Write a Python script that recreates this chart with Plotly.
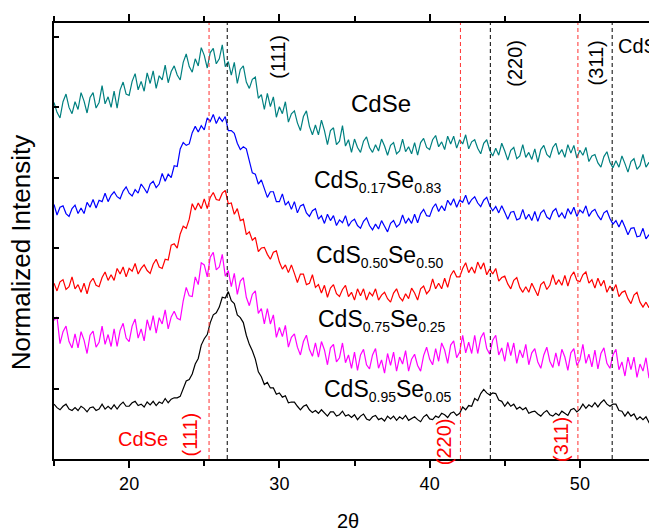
import plotly.graph_objects as go

# 2-theta grid (degrees), 0.2 deg step
two_theta = [round(15 + 0.2 * i, 1) for i in range(201)]

cdse = [
5.07,4.93,4.85,5.08,5.19,5.00,4.91,5.08,4.97,5.21,
5.09,4.92,5.14,5.21,4.99,5.07,5.31,5.05,5.15,5.00,
5.23,4.99,5.25,5.36,5.19,5.17,5.37,5.48,5.25,5.37,
5.23,5.49,5.34,5.52,5.27,5.45,5.39,5.60,5.35,5.51,
5.59,5.46,5.39,5.64,5.76,5.58,5.50,5.69,5.59,5.85,
5.74,5.56,5.78,5.84,5.62,5.69,5.89,5.58,5.65,5.46,
5.64,5.34,5.54,5.59,5.36,5.27,5.40,5.43,5.13,5.18,
4.97,5.20,5.01,5.15,4.86,5.01,4.91,5.08,4.79,4.91,
4.95,4.78,4.67,4.87,4.95,4.73,4.61,4.75,4.61,4.82,
4.67,4.47,4.67,4.71,4.47,4.52,4.74,4.45,4.54,4.36,
4.55,4.43,4.36,4.52,4.58,4.43,4.36,4.47,4.38,4.55,
4.45,4.32,4.46,4.50,4.34,4.38,4.55,4.37,4.44,4.34,
4.50,4.32,4.50,4.56,4.43,4.40,4.54,4.60,4.44,4.51,
4.40,4.59,4.48,4.59,4.42,4.54,4.48,4.61,4.41,4.51,
4.54,4.42,4.34,4.49,4.54,4.39,4.31,4.42,4.32,4.49,
4.38,4.25,4.39,4.43,4.27,4.31,4.47,4.29,4.36,4.26,
4.41,4.22,4.40,4.46,4.33,4.29,4.43,4.49,4.33,4.40,
4.29,4.47,4.35,4.46,4.28,4.39,4.32,4.43,4.23,4.31,
4.33,4.21,4.15,4.30,4.37,4.22,4.14,4.24,4.15,4.31,
4.20,4.08,4.23,4.27,4.12,4.17,4.33,4.15,4.22,4.12,
4.27]

cds017 = [
3.62,3.47,3.58,3.60,3.49,3.45,3.56,3.61,3.49,3.57,
3.49,3.65,3.58,3.69,3.57,3.68,3.66,3.78,3.66,3.75,
3.80,3.73,3.70,3.81,3.87,3.78,3.74,3.83,3.78,3.91,
3.85,3.78,3.91,3.95,3.86,3.91,4.06,3.95,4.05,4.00,
4.17,4.16,4.41,4.50,4.46,4.48,4.64,4.73,4.65,4.74,
4.68,4.85,4.80,4.90,4.77,4.86,4.80,4.87,4.67,4.67,
4.63,4.49,4.40,4.44,4.41,4.22,4.07,4.05,3.91,3.97,
3.85,3.72,3.80,3.80,3.66,3.66,3.77,3.61,3.66,3.55,
3.66,3.50,3.60,3.62,3.50,3.45,3.53,3.56,3.41,3.46,
3.35,3.48,3.39,3.46,3.32,3.40,3.36,3.46,3.31,3.38,
3.41,3.32,3.28,3.38,3.43,3.32,3.26,3.34,3.27,3.39,
3.31,3.23,3.35,3.39,3.30,3.34,3.47,3.35,3.42,3.35,
3.48,3.36,3.49,3.55,3.46,3.45,3.57,3.63,3.52,3.60,
3.53,3.68,3.61,3.70,3.58,3.68,3.65,3.75,3.62,3.69,
3.73,3.64,3.59,3.68,3.72,3.60,3.53,3.59,3.50,3.60,
3.51,3.41,3.51,3.52,3.40,3.42,3.55,3.41,3.48,3.39,
3.52,3.38,3.50,3.54,3.44,3.41,3.52,3.56,3.44,3.50,
3.42,3.56,3.48,3.58,3.45,3.54,3.50,3.60,3.45,3.52,
3.55,3.46,3.40,3.50,3.53,3.42,3.34,3.39,3.30,3.40,
3.30,3.19,3.28,3.29,3.16,3.17,3.28,3.13,3.19,3.09,
3.20]

cds050 = [
2.50,2.39,2.52,2.55,2.41,2.45,2.59,2.42,2.48,2.37,
2.50,2.35,2.51,2.57,2.47,2.45,2.58,2.66,2.54,2.62,
2.54,2.71,2.63,2.73,2.59,2.71,2.67,2.78,2.63,2.71,
2.76,2.68,2.64,2.77,2.84,2.73,2.71,2.84,2.83,3.04,
3.06,3.00,3.20,3.31,3.28,3.41,3.63,3.54,3.64,3.56,
3.70,3.56,3.72,3.79,3.69,3.68,3.78,3.82,3.63,3.64,
3.48,3.56,3.39,3.41,3.19,3.23,3.11,3.15,2.95,3.00,
3.01,2.91,2.84,2.94,2.96,2.80,2.70,2.76,2.65,2.76,
2.64,2.51,2.63,2.63,2.48,2.50,2.62,2.44,2.48,2.36,
2.47,2.30,2.43,2.48,2.35,2.31,2.41,2.47,2.31,2.37,
2.26,2.42,2.32,2.42,2.26,2.37,2.32,2.42,2.26,2.33,
2.37,2.28,2.23,2.36,2.42,2.30,2.25,2.35,2.28,2.43,
2.36,2.26,2.42,2.46,2.35,2.40,2.56,2.42,2.50,2.42,
2.57,2.44,2.61,2.68,2.59,2.59,2.71,2.79,2.65,2.73,
2.64,2.80,2.70,2.79,2.62,2.70,2.63,2.71,2.53,2.58,
2.60,2.49,2.42,2.54,2.58,2.44,2.37,2.45,2.37,2.50,
2.41,2.32,2.48,2.52,2.41,2.47,2.62,2.48,2.55,2.47,
2.61,2.46,2.60,2.66,2.54,2.52,2.62,2.66,2.50,2.55,
2.43,2.57,2.46,2.54,2.37,2.46,2.39,2.48,2.31,2.37,
2.39,2.28,2.21,2.33,2.37,2.23,2.16,2.23,2.15,2.27,
2.18]

cds075 = [
1.97,2.02,1.64,1.81,1.89,1.67,1.58,1.78,1.58,1.81,
1.69,1.50,1.76,1.82,1.59,1.66,1.89,1.63,1.77,1.60,
1.85,1.60,1.83,1.93,1.72,1.67,1.89,1.99,1.72,1.85,
1.68,1.98,1.83,2.04,1.79,2.01,1.92,2.12,1.85,2.02,
2.10,2.00,1.98,2.25,2.44,2.32,2.31,2.59,2.48,2.79,
2.76,2.59,2.87,2.94,2.69,2.73,2.91,2.60,2.68,2.45,
2.64,2.34,2.53,2.58,2.30,2.18,2.34,2.39,2.07,2.14,
1.92,2.14,1.92,2.05,1.73,1.87,1.74,1.90,1.59,1.73,
1.78,1.59,1.48,1.67,1.76,1.56,1.46,1.65,1.45,1.67,
1.55,1.34,1.58,1.63,1.38,1.44,1.65,1.37,1.48,1.29,
1.52,1.26,1.48,1.56,1.34,1.28,1.48,1.57,1.29,1.41,
1.22,1.50,1.33,1.52,1.25,1.45,1.35,1.54,1.25,1.42,
1.49,1.33,1.25,1.47,1.59,1.42,1.34,1.57,1.39,1.65,
1.55,1.36,1.62,1.68,1.44,1.52,1.76,1.51,1.66,1.50,
1.76,1.50,1.72,1.80,1.57,1.49,1.69,1.76,1.48,1.58,
1.39,1.66,1.47,1.65,1.36,1.55,1.44,1.63,1.34,1.51,
1.57,1.38,1.29,1.48,1.59,1.39,1.30,1.51,1.32,1.56,
1.45,1.26,1.51,1.57,1.33,1.41,1.63,1.36,1.49,1.31,
1.55,1.28,1.50,1.58,1.36,1.29,1.48,1.56,1.27,1.38,
1.18,1.45,1.27,1.45,1.16,1.35,1.25,1.44,1.15,1.32,
1.30]

cds095 = [
0.78,0.73,0.70,0.75,0.78,0.71,0.69,0.73,0.69,0.75,
0.72,0.67,0.73,0.74,0.69,0.71,0.78,0.71,0.75,0.71,
0.77,0.71,0.77,0.81,0.75,0.75,0.80,0.82,0.76,0.78,
0.74,0.81,0.77,0.82,0.76,0.81,0.79,0.86,0.80,0.85,
0.87,0.87,0.89,1.01,1.11,1.13,1.21,1.35,1.43,1.62,
1.71,1.77,1.94,2.05,2.08,2.16,2.30,2.29,2.38,2.25,
2.21,2.05,2.01,1.94,1.76,1.63,1.54,1.42,1.24,1.17,
1.06,1.09,1.01,1.01,0.92,0.94,0.88,0.90,0.80,0.81,
0.81,0.75,0.70,0.75,0.77,0.70,0.66,0.69,0.65,0.70,
0.66,0.61,0.67,0.67,0.61,0.63,0.68,0.61,0.63,0.59,
0.63,0.56,0.61,0.64,0.57,0.55,0.60,0.62,0.56,0.58,
0.54,0.61,0.57,0.61,0.55,0.60,0.57,0.62,0.55,0.58,
0.60,0.56,0.53,0.60,0.63,0.57,0.56,0.61,0.59,0.65,
0.63,0.59,0.65,0.67,0.62,0.65,0.74,0.70,0.76,0.75,
0.86,0.83,0.93,0.99,0.94,0.91,0.94,0.93,0.84,0.82,
0.75,0.81,0.75,0.78,0.71,0.74,0.70,0.73,0.65,0.67,
0.68,0.64,0.61,0.66,0.69,0.63,0.61,0.65,0.62,0.68,
0.65,0.62,0.70,0.72,0.67,0.71,0.78,0.72,0.77,0.74,
0.80,0.74,0.80,0.84,0.78,0.75,0.78,0.78,0.69,0.68,
0.61,0.67,0.61,0.64,0.56,0.60,0.56,0.60,0.52,0.56,
0.57]

series_names = ["CdSe", "CdS0.17Se0.83", "CdS0.50Se0.50", "CdS0.75Se0.25", "CdS0.95Se0.05"]
series_values = [cdse, cds017, cds050, cds075, cds095]
series_colors = ["#008080", "#0000ff", "#ff0000", "#ff00ff", "#000000"]

# reference peak positions (2theta)
cdse_peaks = [25.32, 42.05, 49.87]
cds_peaks = [26.53, 44.04, 52.15]

FONT = "Liberation Sans, Arial, sans-serif"

fig = go.Figure()
for name, vals, col in zip(series_names, series_values, series_colors):
    fig.add_trace(go.Scatter(x=two_theta, y=vals, mode="lines", name=name,
                             line=dict(color=col, width=1.2)))

for p in cdse_peaks:
    fig.add_shape(type="line", xref="x", yref="paper", x0=p, x1=p, y0=0, y1=1,
                  line=dict(color="#ff3030", width=1, dash="4px,3px"), layer="above")
for p in cds_peaks:
    fig.add_shape(type="line", xref="x", yref="paper", x0=p, x1=p, y0=0, y1=1,
                  line=dict(color="#000000", width=1, dash="4px,3px"), layer="above")

def sub(s):
    return "<sub><span style='font-size:14px'>" + s + "</span></sub>"

labels = [
    ("CdSe", 36.79, 5.06, "center", 24),
    ("CdS" + sub("0.17") + "Se" + sub("0.83"), 32.17, 3.95, "left", 23),
    ("CdS" + sub("0.50") + "Se" + sub("0.50"), 32.30, 2.88, "left", 23),
    ("CdS" + sub("0.75") + "Se" + sub("0.25"), 32.43, 1.97, "left", 23),
    ("CdS" + sub("0.95") + "Se" + sub("0.05"), 32.83, 0.97, "left", 23),
]
for txt, x, y, xa, fs in labels:
    fig.add_annotation(x=x, y=y, xref="x", yref="y", text=txt, showarrow=False,
                       xanchor=xa, yanchor="middle", font=dict(family=FONT, size=fs, color="black"))

# plane labels
black_planes = [("(111)", 29.91, 5.72), ("(220)", 45.66, 5.63), ("(311)", 51.10, 5.63)]
for txt, x, y in black_planes:
    fig.add_annotation(x=x, y=y, xref="x", yref="y", text=txt, showarrow=False, textangle=-90,
                       xanchor="center", yanchor="middle", font=dict(family=FONT, size=20, color="black"))
fig.add_annotation(x=52.38, y=5.88, xref="x", yref="y", text="CdS", showarrow=False,
                   xanchor="left", yanchor="middle", font=dict(family=FONT, size=20, color="black"))

red_planes = [("(111)", 24.06, 0.35), ("(220)", 41.01, 0.25), ("(311)", 48.79, 0.28)]
for txt, x, y in red_planes:
    fig.add_annotation(x=x, y=y, xref="x", yref="y", text=txt, showarrow=False, textangle=-90,
                       xanchor="center", yanchor="middle", font=dict(family=FONT, size=20, color="red"))
fig.add_annotation(x=20.93, y=0.28, xref="x", yref="y", text="CdSe", showarrow=False,
                   xanchor="center", yanchor="middle", font=dict(family=FONT, size=20, color="red"))

# axis titles
fig.add_annotation(x=-0.0549, y=0.474, xref="paper", yref="paper", text="Normalized Intensity",
                   showarrow=False, textangle=-90, xanchor="center", yanchor="middle",
                   font=dict(family=FONT, size=26, color="black"))
fig.add_annotation(x=0.489, y=-0.1416, xref="paper", yref="paper", text="2θ",
                   showarrow=False, xanchor="center", yanchor="middle",
                   font=dict(family=FONT, size=20, color="black"))

fig.update_layout(
    width=657, height=530,
    margin=dict(l=46, r=10, t=6, b=79),
    paper_bgcolor="white", plot_bgcolor="white",
    showlegend=False,
    font=dict(family=FONT, size=18, color="black"),
)
fig.update_xaxes(range=[15, 55], tick0=0, dtick=10, ticks="outside", ticklen=7, tickwidth=1.5,
                 tickcolor="black", showline=True, linecolor="black", linewidth=1.5, mirror="ticks",
                 showgrid=False, zeroline=False, ticklabelstandoff=1,
                 tickfont=dict(family=FONT, size=18, color="black"),
                 minor=dict(tick0=15, dtick=5, ticks="outside", ticklen=5, tickwidth=1.5, tickcolor="black"))
fig.update_yaxes(range=[0, 6.2], tick0=0, dtick=1, ticks="inside", ticklen=5, tickwidth=1.5,
                 tickcolor="black", showticklabels=False, showline=True, linecolor="black",
                 linewidth=1.5, mirror=True, showgrid=False, zeroline=False)

fig.write_html("out.html")
